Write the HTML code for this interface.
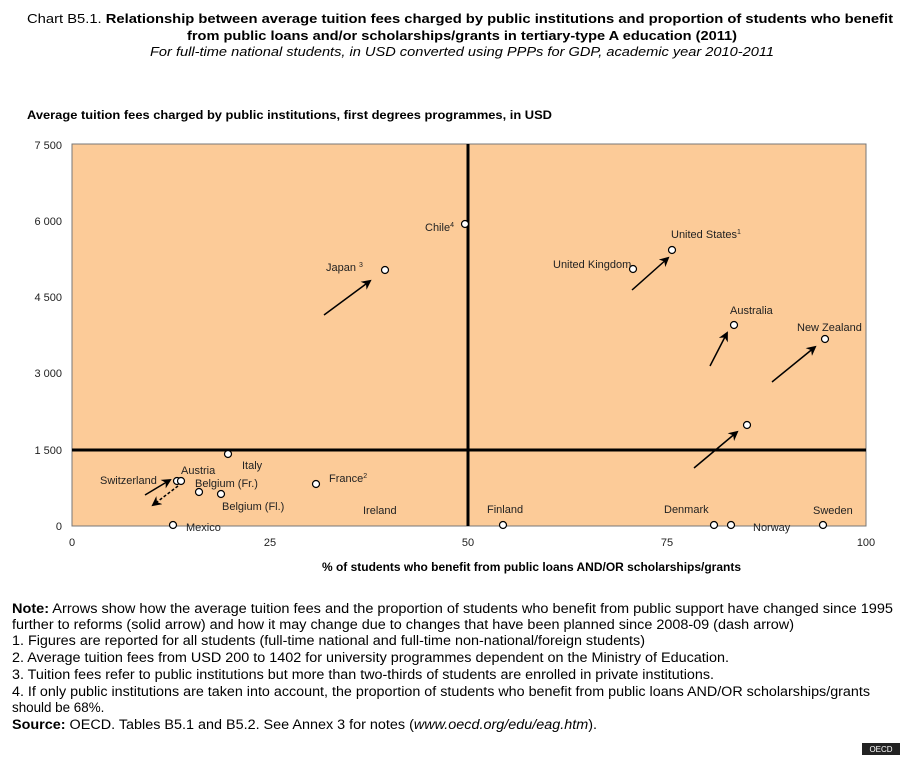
<!DOCTYPE html>
<html><head><meta charset="utf-8"><style>
body{margin:0;background:#fff;width:900px;height:755px;overflow:hidden;font-family:"Liberation Sans",Arial,sans-serif;}
svg text{font-family:"Liberation Sans",Arial,sans-serif;}
</style></head><body>
<svg width="900" height="755" xmlns="http://www.w3.org/2000/svg">
<defs>
<marker id="ah" markerWidth="10" markerHeight="10" refX="8" refY="5" orient="auto" markerUnits="userSpaceOnUse"><path d="M0,0 L10,5 L0,10 L3,5 z" fill="#000"/></marker>
</defs>
<text x="27" y="23" font-size="13.2" fill="#000" textLength="866" lengthAdjust="spacingAndGlyphs">Chart B5.1. <tspan font-weight="bold">Relationship between average tuition fees charged by public institutions and proportion of students who benefit</tspan></text>
<text x="187" y="40" font-size="13.2" font-weight="bold" textLength="550" lengthAdjust="spacingAndGlyphs">from public loans and/or scholarships/grants in tertiary-type A education (2011)</text>
<text x="150" y="56" font-size="13.2" font-style="italic" textLength="624" lengthAdjust="spacingAndGlyphs">For full-time national students, in USD converted using PPPs for GDP, academic year 2010-2011</text>
<text x="27" y="119" font-size="12" font-weight="bold" textLength="525" lengthAdjust="spacingAndGlyphs">Average tuition fees charged by public institutions, first degrees programmes, in USD</text>
<rect x="72" y="144" width="794" height="382" fill="#FCCB98" stroke="#777" stroke-width="1"/>
<g font-size="11" text-anchor="end" fill="#222">
<text x="62" y="149">7 500</text><text x="62" y="225">6 000</text><text x="62" y="301">4 500</text><text x="62" y="377">3 000</text><text x="62" y="454">1 500</text><text x="62" y="530">0</text>
</g>
<g font-size="11" text-anchor="middle" fill="#222">
<text x="72" y="546">0</text><text x="270" y="546">25</text><text x="468" y="546">50</text><text x="667" y="546">75</text><text x="866" y="546">100</text>
</g>
<text x="322" y="571" font-size="11.5" font-weight="bold" textLength="419" lengthAdjust="spacingAndGlyphs">% of students who benefit from public loans AND/OR scholarships/grants</text>
<line x1="72" y1="450" x2="866" y2="450" stroke="#000" stroke-width="3"/>
<line x1="468" y1="144" x2="468" y2="526" stroke="#000" stroke-width="3"/>
<g stroke="#000" stroke-width="1.5" marker-end="url(#ah)">
<line x1="324" y1="315" x2="370" y2="281"/>
<line x1="632" y1="290" x2="668" y2="258"/>
<line x1="710" y1="366" x2="727" y2="333"/>
<line x1="772" y1="382" x2="815" y2="347"/>
<line x1="694" y1="468" x2="737" y2="432"/>
<line x1="145" y1="495" x2="170" y2="480"/>
<line x1="178" y1="486" x2="153" y2="505" stroke-dasharray="3,2"/>
</g>
<g fill="#fff" stroke="#000" stroke-width="1.2">
<circle cx="465" cy="224" r="3.5"/><circle cx="385" cy="270" r="3.5"/><circle cx="633" cy="269" r="3.5"/><circle cx="672" cy="250" r="3.5"/>
<circle cx="734" cy="325" r="3.5"/><circle cx="825" cy="339" r="3.5"/><circle cx="747" cy="425" r="3.5"/><circle cx="228" cy="454" r="3.5"/>
<circle cx="177" cy="481" r="3.5"/><circle cx="181" cy="481" r="3.5"/><circle cx="199" cy="492" r="3.5"/><circle cx="221" cy="494" r="3.5"/>
<circle cx="316" cy="484" r="3.5"/><circle cx="173" cy="525" r="3.5"/><circle cx="503" cy="525" r="3.5"/><circle cx="714" cy="525" r="3.5"/>
<circle cx="731" cy="525" r="3.5"/><circle cx="823" cy="525" r="3.5"/>
</g>
<g font-size="11" fill="#222">
<text x="425" y="231">Chile<tspan font-size="7" dy="-4">4</tspan></text>
<text x="326" y="271">Japan <tspan font-size="7" dy="-4">3</tspan></text>
<text x="553" y="268">United Kingdom</text>
<text x="671" y="238">United States<tspan font-size="7" dy="-4">1</tspan></text>
<text x="730" y="314">Australia</text>
<text x="797" y="331">New Zealand</text>
<text x="242" y="469">Italy</text>
<text x="181" y="474">Austria</text>
<text x="100" y="484">Switzerland</text>
<text x="195" y="487">Belgium (Fr.)</text>
<text x="222" y="510">Belgium (Fl.)</text>
<text x="329" y="482">France<tspan font-size="7" dy="-4">2</tspan></text>
<text x="363" y="514">Ireland</text>
<text x="186" y="531">Mexico</text>
<text x="487" y="513">Finland</text>
<text x="664" y="513">Denmark</text>
<text x="753" y="531">Norway</text>
<text x="813" y="514">Sweden</text>
</g>
<g font-size="13.4" fill="#000" lengthAdjust="spacingAndGlyphs">
<text x="12" y="613" textLength="881" lengthAdjust="spacingAndGlyphs"><tspan font-weight="bold">Note:</tspan> Arrows show how the average tuition fees and the proportion of students who benefit from public support have changed since 1995</text>
<text x="12" y="629" textLength="782" lengthAdjust="spacingAndGlyphs">further to reforms (solid arrow) and how it may change due to changes that have been planned since 2008-09 (dash arrow)</text>
<text x="12" y="645" textLength="633" lengthAdjust="spacingAndGlyphs">1. Figures are reported for all students (full-time national and full-time non-national/foreign students)</text>
<text x="12" y="662" textLength="717" lengthAdjust="spacingAndGlyphs">2. Average tuition fees from USD 200 to 1402 for university programmes dependent on the Ministry of Education.</text>
<text x="12" y="679" textLength="702" lengthAdjust="spacingAndGlyphs">3. Tuition fees refer to public institutions but more than two-thirds of students are enrolled in private institutions.</text>
<text x="12" y="696" textLength="858" lengthAdjust="spacingAndGlyphs">4. If only public institutions are taken into account, the proportion of students who benefit from public loans AND/OR scholarships/grants</text>
<text x="12" y="712">should be 68%.</text>
<text x="12" y="729" textLength="585" lengthAdjust="spacingAndGlyphs"><tspan font-weight="bold">Source:</tspan> OECD. Tables B5.1 and B5.2. See Annex 3 for notes (<tspan font-style="italic">www.oecd.org/edu/eag.htm</tspan>).</text>
</g>
<rect x="862" y="743" width="38" height="12" fill="#222"/>
<text x="881" y="752" font-size="8" fill="#fff" text-anchor="middle">OECD</text>
</svg>
</body></html>
